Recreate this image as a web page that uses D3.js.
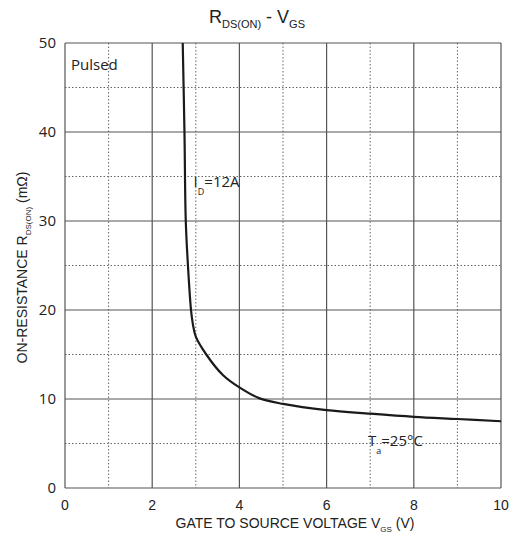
<!DOCTYPE html>
<html lang="en">
<head>
<meta charset="UTF-8"/>
<title>RDS(ON) - VGS</title>
<script src="https://d3js.org/d3.v7.min.js" charset="utf-8"></script>
<style type="text/css">
    body { margin: 0; background: #fff; }
    text { font-family: "Liberation Sans", Arial, sans-serif; fill: #222; }
    .tick-y, .note { font-family: "Open Sans", "Noto Sans", sans-serif; }
    .grid-major { stroke: #555; stroke-width: 1.2px; }
    .grid-minor { stroke: #666; stroke-width: 1px; stroke-dasharray: 1.5 2; }
    path.line { fill: none; stroke: #1a1a1a; stroke-width: 2.2px; }
</style>
</head>
<body>
<div id="chart"></div>
<script type="text/javascript">
// curve
var vgs = [2.70, 2.74, 2.77, 2.82, 2.89, 2.93, 3.00, 3.24, 3.62, 4.00, 4.45, 5.00, 6.00, 7.00, 8.00, 9.00, 10.00];
var rds = [50, 40, 30, 25, 20, 18.5, 17.0, 15.0, 12.7, 11.3, 10.1, 9.45, 8.75, 8.35, 8.0, 7.75, 7.5];

var xTicks = [0, 2, 4, 6, 8, 10];
var xMinor = [1, 3, 5, 7, 9];
var yTicks = [0, 10, 20, 30, 40, 50];
var yMinor = [5, 15, 25, 35, 45];

var margin = {top: 43, right: 14, bottom: 52, left: 65},
    width = 515 - margin.left - margin.right,
    height = 540 - margin.top - margin.bottom;

var svg = d3.select("#chart")
    .append("svg")
    .attr("width", 515)
    .attr("height", 540);

var g = svg.append("g")
    .attr("transform", "translate(" + margin.left + "," + margin.top + ")");

var x = d3.scaleLinear().domain([0, 10]).range([0, width]);
var y = d3.scaleLinear().domain([0, 50]).range([height, 0]);

// grid
g.selectAll(".vminor").data(xMinor).enter().append("line")
    .attr("class", "grid-minor")
    .attr("x1", d => x(d)).attr("x2", d => x(d))
    .attr("y1", 0).attr("y2", height);
g.selectAll(".hminor").data(yMinor).enter().append("line")
    .attr("class", "grid-minor")
    .attr("x1", 0).attr("x2", width)
    .attr("y1", d => y(d)).attr("y2", d => y(d));
g.selectAll(".vmajor").data(xTicks).enter().append("line")
    .attr("class", "grid-major")
    .attr("x1", d => x(d)).attr("x2", d => x(d))
    .attr("y1", 0).attr("y2", height);
g.selectAll(".hmajor").data(yTicks).enter().append("line")
    .attr("class", "grid-major")
    .attr("x1", 0).attr("x2", width)
    .attr("y1", d => y(d)).attr("y2", d => y(d));

// tick labels
g.selectAll(".tick-x").data(xTicks).enter().append("text")
    .attr("class", "tick-x")
    .attr("x", d => x(d)).attr("y", height + 22)
    .attr("text-anchor", "middle")
    .style("font-size", "14px")
    .text(d => d);
g.selectAll(".tick-y").data(yTicks).enter().append("text")
    .attr("class", "tick-y")
    .attr("x", -9).attr("y", d => y(d) + 5)
    .attr("text-anchor", "end")
    .style("font-size", "15px")
    .text(d => d);

// curve
var pts = vgs.map((v, i) => [v, rds[i]]);
var line = d3.line()
    .x(d => x(d[0]))
    .y(d => y(d[1]))
    .curve(d3.curveCatmullRom.alpha(0.5));
g.append("path").datum(pts).attr("class", "line").attr("d", line);

// annotations
g.append("text").attr("class", "note")
    .attr("x", 6).attr("y", 27)
    .style("font-size", "15px")
    .text("Pulsed");

var id = g.append("text").attr("class", "note")
    .attr("x", x(2.95)).attr("y", y(33.8))
    .style("font-size", "15px");
id.append("tspan").text("I");
id.append("tspan").attr("dy", 8).style("font-size", "9px").text("D");
id.append("tspan").attr("dy", -8).text("=12A");

var ta = g.append("text").attr("class", "note")
    .attr("x", x(6.95)).attr("y", y(4.7))
    .style("font-size", "15px");
ta.append("tspan").text("T");
ta.append("tspan").attr("dy", 8).style("font-size", "9px").text("a");
ta.append("tspan").attr("dy", -8).text("=25°C");

// title
var title = svg.append("text")
    .attr("x", 257).attr("y", 23)
    .attr("text-anchor", "middle")
    .style("font-size", "18px");
title.append("tspan").text("R");
title.append("tspan").attr("dy", 5).style("font-size", "11px").text("DS(ON)");
title.append("tspan").attr("dy", -5).text(" - V");
title.append("tspan").attr("dy", 5).style("font-size", "11px").text("GS");

// x axis label
var xl = svg.append("text")
    .attr("x", margin.left + width / 2 + 12).attr("y", 528)
    .attr("text-anchor", "middle")
    .style("font-size", "14px");
xl.append("tspan").text("GATE TO SOURCE VOLTAGE V");
xl.append("tspan").attr("dy", 4).style("font-size", "8px").text("GS");
xl.append("tspan").attr("dy", -4).text(" (V)");

// y axis label
var yl = svg.append("text")
    .attr("transform", "translate(27," + (margin.top + height / 2 + 2) + ") rotate(-90)")
    .attr("text-anchor", "middle")
    .style("font-size", "14px");
yl.append("tspan").text("ON-RESISTANCE R");
yl.append("tspan").attr("dy", 4).style("font-size", "8px").text("DS(ON)");
yl.append("tspan").attr("dy", -4).text(" (mΩ)");
</script>
</body>
</html>
